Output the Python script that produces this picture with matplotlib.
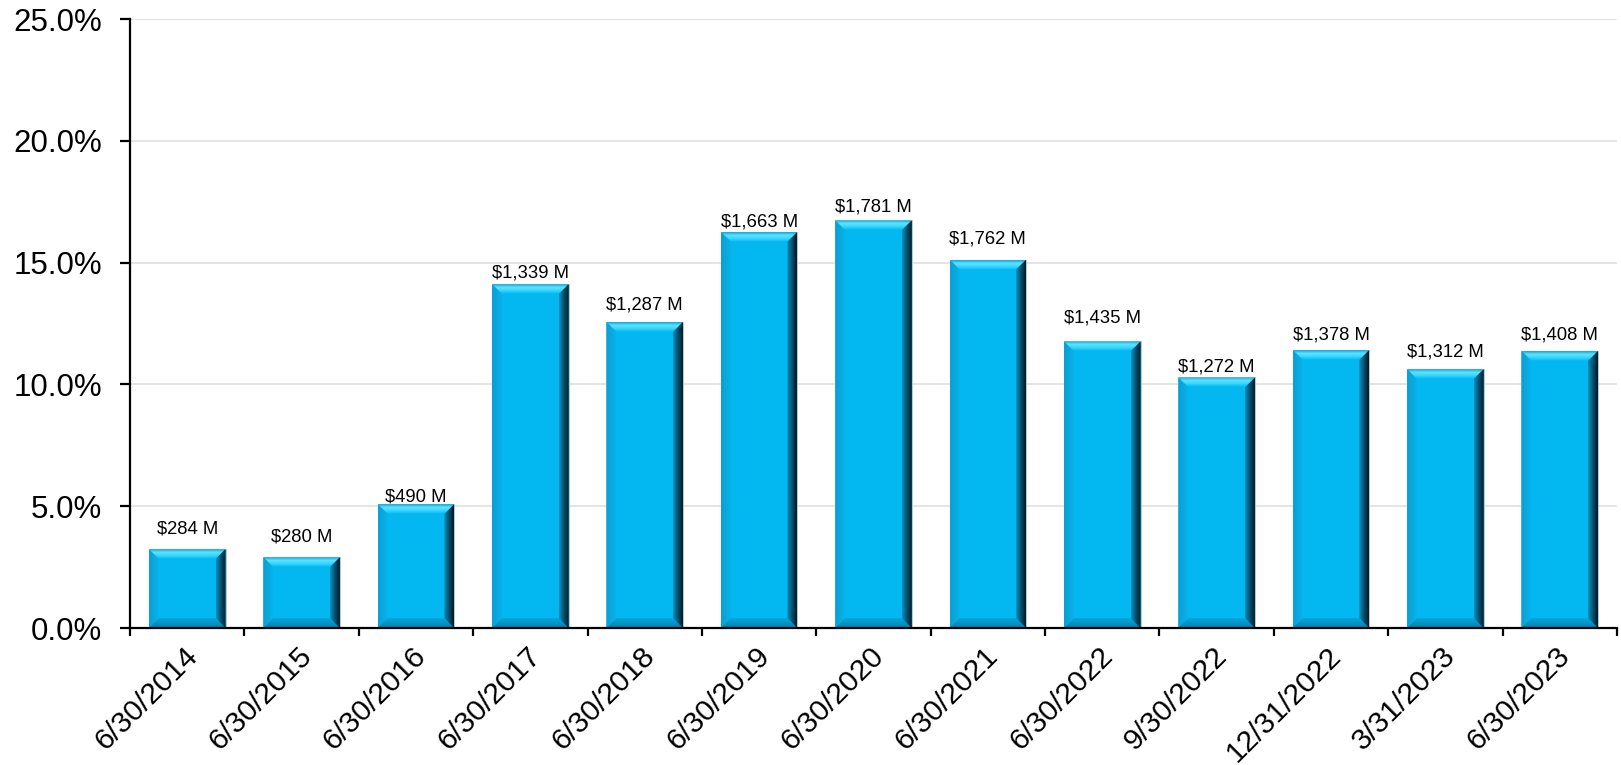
import numpy as np
import matplotlib
matplotlib.use("Agg")
import matplotlib.pyplot as plt
import matplotlib.transforms as mtransforms
from matplotlib.patches import Polygon
from matplotlib.colors import LinearSegmentedColormap
from matplotlib.ticker import PercentFormatter

plt.rcParams['font.family'] = ['Liberation Sans', 'DejaVu Sans']

# data
dates = ["6/30/2014", "6/30/2015", "6/30/2016", "6/30/2017", "6/30/2018",
         "6/30/2019", "6/30/2020", "6/30/2021", "6/30/2022", "9/30/2022",
         "12/31/2022", "3/31/2023", "6/30/2023"]
pct = [3.24, 2.91, 5.09, 14.12, 12.57, 16.27, 16.74, 15.13, 11.77, 10.29,
       11.42, 10.63, 11.38]
amounts = ["$284 M", "$280 M", "$490 M", "$1,339 M", "$1,287 M", "$1,663 M",
           "$1,781 M", "$1,762 M", "$1,435 M", "$1,272 M", "$1,378 M",
           "$1,312 M", "$1,408 M"]

# how far (pixels) each value label sits above its bar, as in the original
label_lift = [20, 20, 7, 11, 17, 10, 13, 21, 23, 10, 15, 17, 16]

FACE = "#03b8f1"
BAR_W = 0.67
BEVEL = 10  # px

fig = plt.figure(figsize=(16.21, 7.65), dpi=100)
ax = fig.add_axes([0.0802, 0.179, 0.9173, 0.796])

x = np.arange(len(dates))
bars = ax.bar(x, pct, width=BAR_W, color=FACE, edgecolor="#b8c8d0",
              linewidth=0.6, zorder=2)

ax.set_xlim(-0.5, len(dates) - 0.5)
ax.set_ylim(0, 25)
ax.set_yticks(np.arange(0, 26, 5))
ax.yaxis.set_major_formatter(PercentFormatter(decimals=1))
ax.grid(axis="y", color="#e2e2e2", linewidth=1.3, zorder=0)
ax.set_axisbelow(True)

# ticks at category boundaries, labels at the centres
ax.set_xticks(np.arange(-0.5, len(dates), 1.0))
ax.set_xticklabels([])
ax.set_xticks(x, minor=True)
ax.set_xticklabels(dates, minor=True, rotation=45, ha="right", va="center",
                   rotation_mode="anchor", fontsize=21.5)
ax.tick_params(axis="x", which="major", length=6, width=1.6, color="black")
ax.tick_params(axis="x", which="minor", length=0, pad=17)
ax.tick_params(axis="y", length=7, width=1.6, labelsize=22.5, pad=13)

# nudge the rotated date labels a little to the right
shift = mtransforms.ScaledTranslation(6 / 100, 0, fig.dpi_scale_trans)
for lab in ax.get_xticklabels(minor=True):
    lab.set_transform(lab.get_transform() + shift)

for s in ["top", "right"]:
    ax.spines[s].set_visible(False)
for s in ["left", "bottom"]:
    ax.spines[s].set_linewidth(1.6)
    ax.spines[s].set_zorder(5)

# bevel size in data units
fig.canvas.draw()
p0 = ax.transData.transform((0, 0))
p1 = ax.transData.transform((1, 1))
dx = BEVEL / (p1[0] - p0[0])
dy = BEVEL / (p1[1] - p0[1])

top_cm = LinearSegmentedColormap.from_list("top", ["#0aa8dc", "#60e4ff", "#35d4ff", FACE])
right_cm = LinearSegmentedColormap.from_list("right", ["#0590c0", "#04506e", "#011820"])
bot_cm = LinearSegmentedColormap.from_list("bot", ["#0580b0", "#09a6dc"])
left_cm = LinearSegmentedColormap.from_list("left", ["#08a0d4", "#0ab2ea"])


def bevel_face(pts, cmap, horizontal, flip=False):
    poly = Polygon(pts, closed=True, facecolor="none", edgecolor="none")
    ax.add_patch(poly)
    grad = np.linspace(0, 1, 64)
    if flip:
        grad = grad[::-1]
    img = grad[None, :] if horizontal else grad[:, None]
    xs = [p[0] for p in pts]
    ys = [p[1] for p in pts]
    im = ax.imshow(img, cmap=cmap, aspect="auto", origin="upper",
                   extent=(min(xs), max(xs), min(ys), max(ys)),
                   interpolation="bilinear", zorder=3)
    im.set_clip_path(poly)


for b in bars:
    x0 = b.get_x()
    x1 = x0 + b.get_width()
    h = b.get_height()
    # top: light band, gradient downward
    bevel_face([(x0, h), (x1, h), (x1 - dx, h - dy), (x0 + dx, h - dy)],
               top_cm, horizontal=False)
    # left
    bevel_face([(x0, 0), (x0, h), (x0 + dx, h - dy), (x0 + dx, dy)],
               left_cm, horizontal=True)
    # bottom
    bevel_face([(x0, 0), (x1, 0), (x1 - dx, dy), (x0 + dx, dy)],
               bot_cm, horizontal=False, flip=True)
    # right: dark shaded side
    bevel_face([(x1, h), (x1, 0), (x1 - dx, dy), (x1 - dx, h - dy)],
               right_cm, horizontal=True)

for b, txt, lift in zip(bars, amounts, label_lift):
    ax.annotate(txt, (b.get_x() + b.get_width() / 2, b.get_height()),
                xytext=(0, lift), textcoords="offset pixels",
                ha="center", va="center", fontsize=13.3, zorder=6)

ax.set_xlim(-0.5, len(dates) - 0.5)
ax.set_ylim(0, 25)

fig.savefig("out.png", dpi=100)
